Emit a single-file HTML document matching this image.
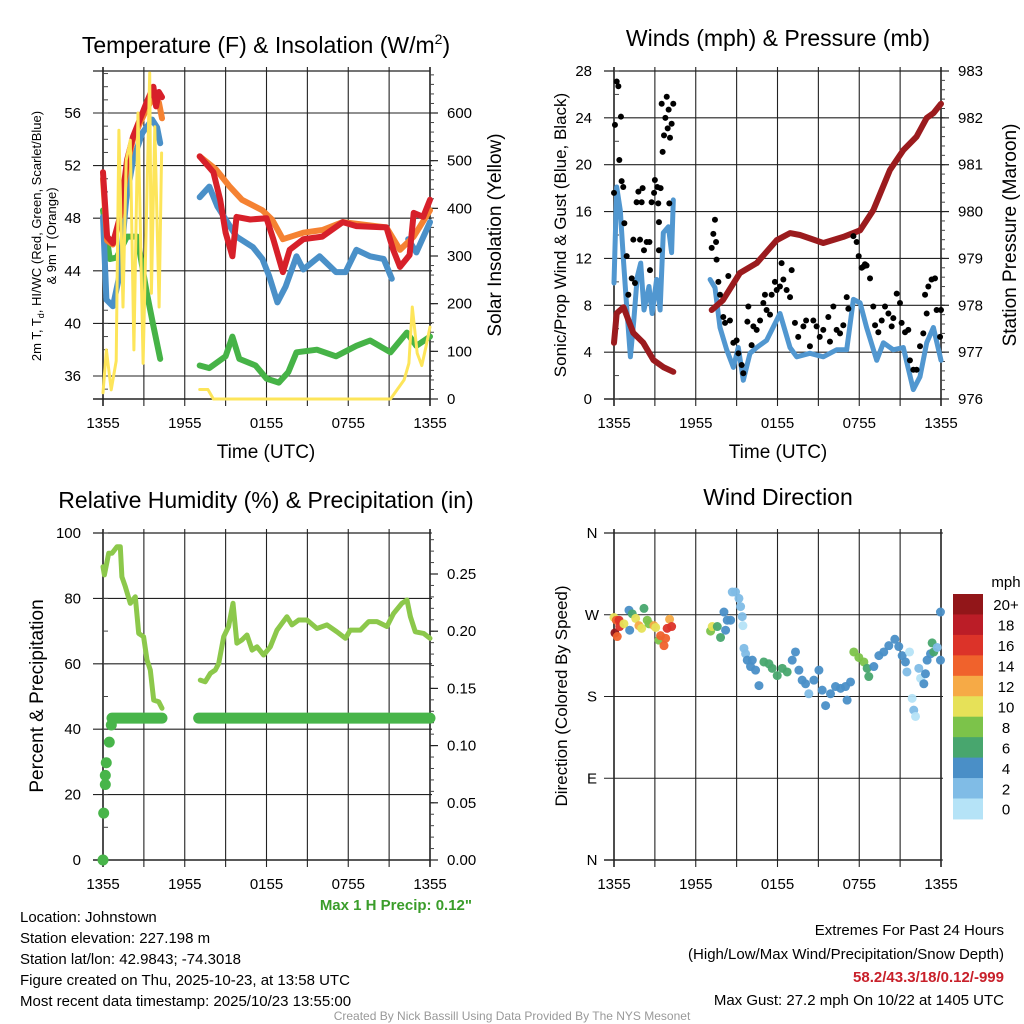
<!DOCTYPE html>
<html><head><meta charset="utf-8">
<style>
html,body{margin:0;padding:0;background:#fff;}
svg{display:block;font-family:"Liberation Sans",Arial,sans-serif;}
</style></head>
<body>
<svg id="fig" width="1024" height="1024" viewBox="0 0 1024 1024" xmlns="http://www.w3.org/2000/svg">
<rect width="1024" height="1024" fill="#fff"/>
<g id="layer"></g>
<!-- titles -->
<text x="266" y="53" font-size="23" text-anchor="middle">Temperature (F) &amp; Insolation (W/m<tspan font-size="14" dy="-9">2</tspan><tspan dy="9">)</tspan></text>
<text x="778" y="46" font-size="23" text-anchor="middle">Winds (mph) &amp; Pressure (mb)</text>
<text x="266" y="508" font-size="23" text-anchor="middle">Relative Humidity (%) &amp; Precipitation (in)</text>
<text x="778" y="505" font-size="23" text-anchor="middle">Wind Direction</text>
<!-- axis titles -->
<text transform="translate(41,236) rotate(-90)" font-size="13" text-anchor="middle">2m T, T<tspan font-size="9" dy="3">d</tspan><tspan dy="-3">, HI/WC (Red, Green, Scarlet/Blue)</tspan></text>
<text transform="translate(56,236) rotate(-90)" font-size="13" text-anchor="middle">&amp; 9m T (Orange)</text>
<text transform="translate(501,235) rotate(-90)" font-size="19" text-anchor="middle">Solar Insolation (Yellow)</text>
<text transform="translate(566,235) rotate(-90)" font-size="17" text-anchor="middle">Sonic/Prop Wind &amp; Gust (Blue, Black)</text>
<text transform="translate(1016,235) rotate(-90)" font-size="19" text-anchor="middle">Station Pressure (Maroon)</text>
<text transform="translate(43,696) rotate(-90)" font-size="19" text-anchor="middle">Percent &amp; Precipitation</text>
<text transform="translate(567,696) rotate(-90)" font-size="17" text-anchor="middle">Direction (Colored By Speed)</text>
<text x="266" y="458" font-size="19" text-anchor="middle">Time (UTC)</text>
<text x="778" y="458" font-size="19" text-anchor="middle">Time (UTC)</text>
<!-- info -->
<text x="472" y="910" font-size="15" font-weight="bold" fill="#3a9d2a" text-anchor="end">Max 1 H Precip: 0.12"</text>
<g font-size="15">
<text x="20" y="922">Location: Johnstown</text>
<text x="20" y="943">Station elevation: 227.198 m</text>
<text x="20" y="964">Station lat/lon: 42.9843; -74.3018</text>
<text x="20" y="985">Figure created on Thu, 2025-10-23, at 13:58 UTC</text>
<text x="20" y="1006">Most recent data timestamp: 2025/10/23 13:55:00</text>
</g>
<g font-size="15" text-anchor="end">
<text x="1004" y="935">Extremes For Past 24 Hours</text>
<text x="1004" y="959">(High/Low/Max Wind/Precipitation/Snow Depth)</text>
<text x="1004" y="982" fill="#c8202a" font-weight="bold">58.2/43.3/18/0.12/-999</text>
<text x="1004" y="1005">Max Gust: 27.2 mph On 10/22 at 1405 UTC</text>
</g>
<text x="512" y="1020" font-size="12" fill="#999" text-anchor="middle">Created By Nick Bassill Using Data Provided By The NYS Mesonet</text>
</svg>
<script>
// ---------- data (hours since 1355 UTC) ----------
const xTickLabels = ["1355","1955","0155","0755","1355"];
const tempTicks = [36,40,44,48,52,56];
const solarTicks = [0,100,200,300,400,500,600];
const windTicks = [0,4,8,12,16,20,24,28];
const presTicks = [976,977,978,979,980,981,982,983];
const rhTicks = [0,20,40,60,80,100];
const precipTicks = ["0.00","0.05","0.10","0.15","0.20","0.25"];
const dirLabels = ["N","E","S","W","N"];
const speedLevels = ["0","2","4","6","8","10","12","14","16","18","20+"];
const speedColors = ["#b5e3f7","#80bce6","#4a8fc7","#48a66e","#7cc34a","#e6e158","#f6aa46","#f0622c","#dc3329","#bb1d27","#921619"];

const tempRed = [[0,51.5],[0.3,46.6],[0.73,46.1],[1.25,48.1],[1.76,52.4],[2.2,54.2],[2.7,55.5],[3.2,56.8],[3.7,58],[3.9,56.5],[4.1,57.6],[4.33,57.2],null,
 [7.1,52.7],[8.1,51.5],[8.6,49.4],[9.0,46.9],[9.5,45.1],[9.8,48.1],[10.8,47.9],[12.0,48.0],[12.5,46.4],[13.2,43.9],[13.7,45.6],[14.7,46.4],[16.1,46.6],[17.6,47.7],[18.6,47.4],[20.8,47.3],[21.3,45.6],[21.8,44.3],[22.5,45.2],[22.8,48.4],[23.5,48.1],[24,49.4]];
const tempOrange = [[0,51],[0.3,46.3],[0.73,46],[1.25,48],[1.76,52],[2.2,54],[2.7,55.2],[3.2,56.3],[3.7,57.2],[4.1,56.8],[4.33,55.6],null,
 [7.1,52.7],[8.3,51.7],[9.3,50.4],[10.2,49.4],[11.7,48.6],[12.4,47.9],[13.2,46.4],[14.7,46.9],[16.1,47.1],[17.6,47.7],[20.8,47.3],[21.8,45.6],[22.8,46.6],[24,48.6]];
const tempBlue = [[0,48.1],[0.25,41.8],[0.73,41.3],[1.2,43.6],[1.7,49.4],[2.2,52.4],[2.9,54.5],[3.6,55.5],[3.97,54.9],[4.2,53.7],null,
 [7.1,49.6],[7.8,50.4],[8.4,48.9],[9.8,46.6],[11.0,45.8],[11.7,44.9],[12.2,43.6],[12.8,41.6],[13.4,42.8],[14.2,45.1],[14.7,44.1],[15.9,45.1],[17.1,43.9],[17.8,43.9],[18.6,45.6],[19.6,45.1],[20.6,44.9],[21.2,43.4],null,
 [22.4,46.4],[23.0,45.4],[24,47.7]];
const tempGreen = [[0,48.6],[0.5,44.9],[1.0,45],[1.76,46.6],[2.5,46.6],[3.2,42.4],[3.7,39.8],[4.2,37.3],null,
 [7.1,36.8],[7.8,36.6],[9.0,37.5],[9.5,39.0],[10.0,37.3],[11.2,36.8],[12.0,35.8],[12.9,35.5],[13.6,36.3],[14.2,37.8],[15.7,38.0],[17.1,37.5],[18.6,38.3],[19.6,38.7],[21.1,37.8],[22.3,39.3],[23.0,38.3],[24,39.0]];
const solarW = [[0,13],[0.25,103],[0.6,19],[0.97,80],[1.17,564],[1.47,193],[1.7,501],[2.0,543],[2.27,103],[2.57,600],[2.94,75],[3.43,684],[3.55,222],[3.8,571],[4.12,193],[4.3,516],null,
 [7.1,20],[7.7,20],[8.1,0],[21.1,0],[22.1,40],[22.45,75],[22.7,193],[23.06,96],[23.4,70],[23.7,109],[24,151]];

const windBlue = [[0,9.9],[0.2,18.1],[0.46,16.1],[0.7,11.8],[0.95,7.6],[1.2,3.6],[1.45,6.7],[1.7,10.4],[1.96,11.6],[2.2,7.6],[2.57,9.6],[2.8,7.3],[3.13,10.2],[3.38,7.6],[3.62,14.2],[3.99,14.7],[4.23,12.5],[4.35,17.0],null,
 [7.05,10.2],[7.41,9.5],[7.78,6.1],[8.27,4.2],[8.76,2.7],[9.12,4.4],[9.49,1.6],[9.98,3.9],[10.47,4.4],[11.2,5.0],[12.18,7.3],[12.92,4.4],[13.41,3.6],[14.38,3.9],[15.36,3.6],[16.34,4.2],[17.08,4.2],[17.57,8.5],[18.06,8.2],[18.54,6.1],[19.28,3.3],[19.77,4.8],[20.5,4.2],[21.23,4.4],[21.97,0.8],[22.46,1.9],[22.95,4.8],[23.44,6.1],[24,3.3]];
const pressure = [[0,977.2],[0.2,977.83],[0.7,977.96],[1.42,977.41],[2.15,977.2],[2.9,976.83],[3.62,976.68],[4.35,976.58],null,
 [7.17,977.9],[8.0,978.11],[9.24,978.69],[10.47,978.9],[11.94,979.39],[12.92,979.54],[13.65,979.5],[15.36,979.33],[16.83,979.46],[18.06,979.6],[19.03,980.03],[20.26,980.89],[21.23,981.31],[22.21,981.6],[22.95,982.0],[23.44,982.1],[24,982.3]];
const gustHours = [0,0.07,0.2,0.32,0.39,0.51,0.56,0.68,0.76,0.93,1.05,1.3,1.42,1.54,1.66,1.79,1.91,2.03,2.1,2.2,2.4,2.6,2.64,2.76,2.94,3.0,3.18,3.25,3.3,3.42,3.5,3.57,3.67,3.77,3.87,3.94,4.01,4.11,4.23,4.35,4.06,3.3,
 7.17,7.29,7.41,7.49,7.53,7.66,7.78,8.02,8.15,8.39,8.51,8.76,9.0,9.13,9.37,9.49,9.79,9.86,10.1,10.23,10.47,10.72,10.96,11.08,11.2,11.45,11.57,11.81,11.94,12.18,12.3,12.43,12.67,12.92,13.04,13.28,13.52,13.9,14.1,14.38,14.63,14.87,15.1,15.36,15.73,15.85,16.1,16.34,16.59,16.83,17.08,17.2,17.57,17.81,17.96,18.18,18.3,18.42,18.54,18.79,19.03,19.16,19.4,19.65,19.89,20.14,20.38,20.5,20.75,20.99,21.11,21.36,21.6,21.72,21.97,22.21,22.46,22.7,22.83,22.95,23.07,23.31,23.56,23.68,23.93,24.0];
const gustMph = [17.6,23.4,27.1,26.7,20.4,24.1,18.6,18.1,15.0,12.2,8.9,10.3,13.6,9.9,16.8,17.7,13.6,16.8,18.0,12.7,13.4,13.4,11.0,16.8,17.6,18.7,18.1,16.7,15.1,18.0,25.2,21.1,22.5,24.0,25.8,23.1,24.7,22.3,23.5,25.2,16.7,12.7,
 12.9,14.1,15.3,13.4,11.9,10.0,8.9,7.0,6.5,10.5,6.7,4.8,5.0,3.9,2.9,2.2,6.6,7.9,4.6,6.2,5.9,6.7,8.2,8.9,7.6,7.2,8.9,10.0,9.3,9.6,11.6,10.2,9.3,8.7,11.0,6.5,5.3,6.2,6.7,4.5,6.7,6.2,5.3,5.9,7.0,4.9,7.9,5.9,5.6,6.3,8.7,7.7,13.9,13.4,12.2,11.2,11.3,11.5,11.4,10.3,7.9,6.3,5.7,6.7,7.9,7.3,6.2,6.9,9.0,8.2,6.5,5.7,5.9,3.3,2.5,2.5,4.5,5.6,8.9,7.3,9.6,10.2,10.3,7.6,5.3,7.6];

const rhPct = [[0,89.7],[0.1,87.2],[0.42,93.8],[0.66,93.8],[1.03,95.8],[1.27,95.8],[1.39,86.6],[1.64,83.6],[2.0,78.5],[2.37,80.5],[2.62,69.3],[2.98,68.3],[3.23,61.2],[3.47,58.1],[3.72,48.9],[4.09,48.4],[4.33,46.4],null,
 [7.14,55.0],[7.5,54.5],[7.88,57.1],[8.24,58.1],[8.49,60.1],[8.86,68.3],[9.22,71.4],[9.54,78.5],[9.83,66.3],[10.2,67.3],[10.57,68.8],[10.94,64.2],[11.3,65.2],[11.79,62.7],[12.28,65.2],[12.77,70.3],[13.14,72.4],[13.5,74.4],[13.87,71.9],[14.36,73.4],[14.97,73.4],[15.71,70.8],[16.44,71.9],[17.17,69.8],[17.79,67.8],[18.15,70.3],[18.89,70.3],[19.5,72.9],[20.11,72.9],[20.84,71.4],[21.33,75.4],[21.94,78.5],[22.31,79.5],[22.56,74.4],[22.92,69.8],[23.53,69.3],[24,67.8]];
const precipHours = [0,0.05,0.17,0.17,0.24,0.46,0.61];
const precipIn = [0,0.041,0.066,0.074,0.085,0.103,0.118];
const precipRuns = [[0.66,4.33,0.124],[7.02,24,0.124]];

const dirHours = [0,0.07,0.17,0.37,0.24,0.42,0.73,1.1,1.15,1.34,1.59,1.83,2.03,2.2,2.44,2.57,2.93,3.06,3.3,3.42,3.67,3.79,3.9,4.08,4.23,
 7.09,7.21,7.58,7.82,8.07,8.19,8.31,8.56,8.68,8.92,9.17,9.29,9.41,9.46,9.54,9.66,9.78,10.15,10.02,10.39,10.64,11.0,11.37,11.61,11.98,12.35,12.71,13.08,13.32,13.57,13.81,14.06,14.3,14.67,15.04,15.28,15.53,15.89,16.26,16.63,16.99,17.11,17.36,17.6,17.97,18.34,18.58,18.7,19.07,19.44,19.8,20.17,20.61,20.9,21.15,21.39,21.69,21.5,21.88,22.0,22.13,22.37,22.5,22.74,22.86,22.98,23.23,23.35,23.47,23.72,23.96,23.96];
const dirDeg = [267,250,264,264,246,257,260,275,253,271,266,258,255,277,264,260,258,256,242,247,236,244,255,265,257,
 252,257,257,245,273,253,264,264,295,295,288,279,268,258,233,227,220,220,213,209,192,218,216,211,203,211,207,220,229,209,198,194,183,198,209,187,170,183,191,189,191,176,196,229,223,218,211,202,213,225,229,236,243,235,225,218,229,207,178,165,158,211,200,194,205,220,227,239,229,234,220,273];
const dirSpeed = [10,20,14,16,14,16,10,4,4,6,10,12,10,6,8,8,12,10,8,14,14,14,16,12,16,
 8,10,6,6,4,4,4,4,2,2,2,2,2,0,2,2,4,4,4,4,4,6,6,6,6,6,6,4,4,4,4,4,2,4,4,4,4,4,4,4,4,4,4,8,8,8,6,6,4,4,4,4,4,4,4,4,0,2,0,2,0,2,0,4,4,4,4,6,6,2,4,4];

// ---------- helpers ----------
const NS = "http://www.w3.org/2000/svg";
const layer = document.getElementById('layer');
function mk(tag, attrs, parent){const e=document.createElementNS(NS,tag);for(const k in attrs)e.setAttribute(k,attrs[k]);(parent||layer).appendChild(e);return e;}
function lin(d0,d1,r0,r1){return v=>r0+(v-d0)*(r1-r0)/(d1-d0);}
function pathFrom(pts,fx,fy){let d="",pen=false;for(const p of pts){if(!p){pen=false;continue;}d+=(pen?"L":"M")+fx(p[0]).toFixed(1)+","+fy(p[1]).toFixed(1);pen=true;}return d;}

const panels = {
 tl:{x0:103,x1:430,y0:71,y1:399},
 tr:{x0:614,x1:941,y0:71,y1:399},
 bl:{x0:103,x1:430,y0:533,y1:860},
 br:{x0:614,x1:941,y0:533,y1:860}
};
function frame(p,name,hLines,xlabels){
 const g=mk('g',{});
 
 
 const fx=lin(0,24,p.x0,p.x1);
 for(let i=0;i<=8;i++){const x=fx(i*3);mk('line',{x1:x,x2:x,y1:p.y0-4,y2:p.y1+7,stroke:'#222','stroke-width':(i==0||i==8)?1.6:1.1},g);}
 for(const y of hLines){mk('line',{x1:p.x0-10,x2:p.x1+2,y1:y,y2:y,stroke:'#222','stroke-width':1.1},g);}
 mk('line',{x1:p.x0-10,x2:p.x1,y1:p.y0,y2:p.y0,stroke:'#222','stroke-width':1.2},g);
 mk('line',{x1:p.x0-10,x2:p.x1,y1:p.y1,y2:p.y1,stroke:'#222','stroke-width':1.4},g);
 if(xlabels){xTickLabels.forEach((t,i)=>{const tx=mk('text',{x:fx(i*6),y:p.y1+29,'font-size':15,'text-anchor':'middle'},g);tx.textContent=t;});}
 return fx;
}
function rightTicks(p,fy,vals,minorStep,lo,hi,labels,name){
 const g=mk('g',{});
 
 
 for(let v=lo;v<=hi+1e-9;v+=minorStep){const y=fy(v);mk('line',{x1:p.x1,x2:p.x1+4,y1:y,y2:y,stroke:'#444','stroke-width':1},g);}
 vals.forEach((v,i)=>{const y=fy(v);mk('line',{x1:p.x1,x2:p.x1+8,y1:y,y2:y,stroke:'#222','stroke-width':1.2},g);const t=mk('text',{x:p.x1+17,y:y+5,'font-size':15},g);t.textContent=labels?labels[i]:v;});
}
function leftLabels(p,fy,vals,labels,name,minorStep,lo,hi){
 const g=mk('g',{});
 
 
 if(minorStep){for(let v=lo;v<=hi+1e-9;v+=minorStep){const y=fy(v);mk('line',{x1:p.x0,x2:p.x0+5,y1:y,y2:y,stroke:'#444','stroke-width':1},g);}}
 vals.forEach((v,i)=>{const t=mk('text',{x:p.x0-22,y:fy(v)+5,'font-size':15,'text-anchor':'end'},g);t.textContent=labels?labels[i]:v;});
}
function line(pts,fx,fy,color,w,name){
 const e=mk('path',{d:pathFrom(pts,fx,fy),fill:'none',stroke:color,'stroke-width':w,'stroke-linejoin':'round','stroke-linecap':'round'});
 
 
 return e;
}

// ---------- Temperature panel ----------
{
 const p=panels.tl;
 const fyT=lin(36,56,376,113), fyS=lin(0,600,399,113);
 const fx=frame(p,'temp',tempTicks.map(fyT),true);
 leftLabels(p,fyT,tempTicks,null,'temp-y-ticks',1,35,59);
 rightTicks(p,fyS,solarTicks,20,0,680,null,'solar-y-ticks');
 line(tempGreen,fx,fyT,'#46b347',6,'dewpoint-line');
 line(tempBlue,fx,fyT,'#4a90c8',6,'windchill-line');
 line(tempOrange,fx,fyT,'#f58232',6,'temp-9m-line');
 line(tempRed,fx,fyT,'#d7202a',6,'temp-2m-line');
 line(solarW,fx,fyS,'#fde55a',3,'solar-line');
}
// ---------- Wind panel ----------
{
 const p=panels.tr;
 const fyW=lin(0,28,399,71), fyP=lin(976,983,399,71);
 const fx=frame(p,'wind',windTicks.slice(1).map(fyW),true);
 leftLabels(p,fyW,windTicks,null,'wind-y-ticks',2,0,28);
 rightTicks(p,fyP,presTicks,0.2,976,983,null,'pressure-y-ticks');
 line(windBlue,fx,fyW,'#5197d0',5,'wind-speed-line');
 line(pressure,fx,fyP,'#9b1b1e',6,'pressure-line');
 const g=mk('g',{});
 
 
 gustHours.forEach((h,i)=>{const c=mk('circle',{cx:fx(h),cy:fyW(gustMph[i]),r:3,fill:'#000'},g);
  
  });
}
// ---------- RH panel ----------
{
 const p=panels.bl;
 const fyR=lin(0,100,860,533), fyQ=lin(0,0.25,860,574);
 const fx=frame(p,'rh',rhTicks.map(fyR),true);
 leftLabels(p,fyR,rhTicks,null,'rh-y-ticks',10,0,100);
 rightTicks(p,fyQ,precipTicks.map(Number),0.01,0,0.28,precipTicks,'precip-y-ticks');
 line(rhPct,fx,fyR,'#8cc84b',5,'rh-line');
 const g=mk('g',{});
 
 
 precipRuns.forEach(r=>{const e=mk('line',{x1:fx(r[0]),x2:fx(r[1]),y1:fyQ(r[2]),y2:fyQ(r[2]),stroke:'#48b54a','stroke-width':11,'stroke-linecap':'round'},g);
  
  });
 precipHours.forEach((h,i)=>{const c=mk('circle',{cx:fx(h),cy:fyQ(precipIn[i]),r:5.5,fill:'#48b54a'},g);
  
  });
}
// ---------- Wind direction panel ----------
{
 const p=panels.br;
 const fyD=lin(0,360,860,533);
 const fx=frame(p,'wdir',[0,90,180,270,360].map(fyD),true);
 const lg=mk('g',{});
 
 
 dirLabels.forEach((t,i)=>{const e=mk('text',{x:p.x0-22,y:fyD(i*90)+5,'font-size':15,'text-anchor':'middle'},lg);e.textContent=t;});
 const g=mk('g',{'fill-opacity':0.95});
 
 
 dirHours.forEach((h,i)=>{const idx=Math.min(10,Math.floor(dirSpeed[i]/2));
  const c=mk('circle',{cx:fx(h),cy:fyD(dirDeg[i]),r:4.5,fill:speedColors[idx]},g);
  
  });
 // colorbar
 const cb=mk('g',{});
 
 
 const bh=20.45, top=594;
 speedLevels.forEach((lab,i)=>{const k=10-i;const y=top+i*bh;
  mk('rect',{x:953,y:y,width:30,height:bh+0.5,fill:speedColors[k]},cb);
  const t=mk('text',{x:1006,y:y+bh/2+6,'font-size':15,'text-anchor':'middle'},cb);t.textContent=speedLevels[k];});
 const mt=mk('text',{x:1006,y:587,'font-size':15,'text-anchor':'middle'},cb);mt.textContent='mph';
}
</script>
</body></html>
